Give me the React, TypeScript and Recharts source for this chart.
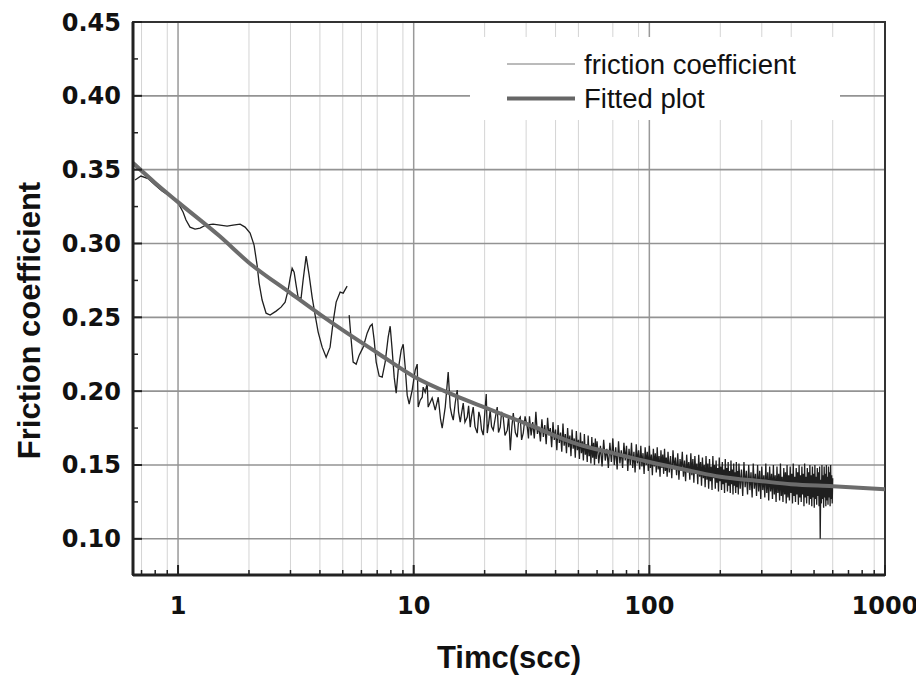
import React from 'react';
import { LineChart, Line, XAxis, YAxis, CartesianGrid, ReferenceArea, Legend } from 'recharts';

// axis ranges (time axis is logarithmic)
const timeRange: [number, number] = [0.644, 1000];
const frictionRange: [number, number] = [0.0755, 0.45];

const timeMajorTicks = [1, 10, 100, 1000];
const timeMinorTicks = [0.7, 0.8, 0.9, 2, 3, 4, 5, 6, 7, 8, 9, 20, 30, 40, 50, 60, 70, 80, 90, 200, 300, 400, 500, 600, 700, 800, 900];
const timeGridMajor = [1, 10, 100];
const frictionMajorTicks = [0.1, 0.15, 0.2, 0.25, 0.3, 0.35, 0.4, 0.45];
const frictionMinorTicks = [0.125, 0.175, 0.225, 0.275, 0.325, 0.375, 0.425];
const frictionGridTicks = [0.1, 0.15, 0.2, 0.25, 0.3, 0.35, 0.4];

// fitted curve
const fitTime = [0.644, 0.8, 1, 1.5, 2, 3, 4, 5, 7, 10, 15, 20, 30, 50, 70, 100, 150, 200, 300, 400, 600, 1000];
const fitValue = [0.3545, 0.341, 0.328, 0.305, 0.287, 0.2664, 0.252, 0.2413, 0.226, 0.21, 0.197, 0.189, 0.178, 0.164, 0.158, 0.152, 0.146, 0.142, 0.139, 0.137, 0.1356, 0.1336];

// measured trace, early part: [time (s), friction], null marks the gap in the record
const frictionEarly: [number, number | null][] = [
  [0.657, 0.343], [0.696, 0.3457], [0.746, 0.344], [0.799, 0.3396], [0.855, 0.3355], [0.925, 0.332],
  [1.0, 0.3274], [1.05, 0.3213], [1.081, 0.3159], [1.124, 0.3111], [1.181, 0.3098], [1.24, 0.3104],
  [1.315, 0.3125], [1.408, 0.3131], [1.508, 0.3125], [1.615, 0.3118], [1.712, 0.3125], [1.834, 0.3131],
  [1.925, 0.3111], [2.022, 0.307], [2.102, 0.2989], [2.165, 0.2854], [2.208, 0.2732], [2.274, 0.2617],
  [2.364, 0.2528], [2.459, 0.2515], [2.607, 0.2542], [2.737, 0.2569], [2.847, 0.2603], [2.932, 0.2684],
  [2.99, 0.2766], [3.049, 0.2833], [3.109, 0.2806], [3.17, 0.2718], [3.232, 0.2637], [3.328, 0.263],
  [3.394, 0.2752], [3.496, 0.2915], [3.6, 0.2786], [3.707, 0.2637], [3.817, 0.2515], [3.932, 0.24],
  [4.089, 0.2298], [4.252, 0.223], [4.418, 0.2298], [4.55, 0.2468], [4.688, 0.2603], [4.875, 0.2671],
  [5.02, 0.2664], [5.22, 0.2711], [5.27, null],
  [5.323, 0.2515], [5.429, 0.2346], [5.534, 0.2197], [5.7, 0.2183], [5.871, 0.2244], [6.105, 0.2298],
  [6.346, 0.2393], [6.536, 0.244], [6.666, 0.2454], [6.797, 0.2346], [6.931, 0.2197], [7.138, 0.2102],
  [7.349, 0.2095], [7.568, 0.2197], [7.794, 0.2366], [7.948, 0.244], [8.104, 0.2278], [8.265, 0.2095],
  [8.428, 0.1986], [8.594, 0.2142], [8.85, 0.2278], [9.025, 0.2318], [9.203, 0.2163], [9.385, 0.1973],
  [9.57, 0.1912], [9.854, 0.2007], [10.15, 0.2142], [10.35, 0.2183], [10.45, 0.1892], [10.66, 0.1939],
  [10.87, 0.1959], [10.97, 0.2027], [11.19, 0.1993], [11.41, 0.2054], [11.52, 0.1892], [11.98, 0.1953],
  [12.34, 0.1871], [12.71, 0.1959], [13.0, 0.181], [13.21, 0.1749], [13.61, 0.1892], [14.01, 0.2129],
  [14.29, 0.1892], [14.5, 0.184], [14.72, 0.1804], [15.0, 0.192], [15.3, 0.2007], [15.5, 0.186],
  [15.76, 0.179], [16.0, 0.186], [16.23, 0.1919], [16.5, 0.179], [16.88, 0.1824], [17.1, 0.19],
  [17.38, 0.1756], [17.6, 0.183], [17.89, 0.1892], [18.2, 0.176], [18.61, 0.1716], [18.9, 0.186],
  [19.16, 0.1824], [19.4, 0.174], [19.73, 0.1702], [20.0, 0.184], [20.32, 0.198], [20.52, 0.1716],
  [20.8, 0.178], [21.12, 0.1871], [21.4, 0.176], [21.76, 0.1736], [22.2, 0.182], [22.62, 0.1892],
  [22.9, 0.172], [23.3, 0.1756], [23.6, 0.186], [23.99, 0.1824], [24.4, 0.17], [24.95, 0.1736],
  [25.3, 0.183], [25.7, 0.16], [26.1, 0.176], [26.46, 0.1851], [27.0, 0.172], [27.51, 0.1688],
  [27.9, 0.181], [28.33, 0.1824], [28.7, 0.167], [29.17, 0.1716], [29.7, 0.183], [30.34, 0.1756],
  [30.7, 0.168],
];

// measured trace, dense part from 31 s to the end of the test
const frictionDense: [number, number][] = [
  [31, 0.183], [31.5, 0.17], [32, 0.179], [32.5, 0.168], [33, 0.186], [33.5, 0.171], [34, 0.176], [34.5, 0.166],
  [35, 0.181], [35.5, 0.169], [36, 0.177], [36.5, 0.164], [37, 0.182], [37.5, 0.17], [38, 0.175], [38.5, 0.162],
  [39, 0.179], [39.5, 0.167], [40, 0.174], [40.5, 0.16], [41, 0.177], [41.5, 0.165], [42, 0.172], [42.5, 0.159],
  [43, 0.178], [43.5, 0.163], [44, 0.171], [44.5, 0.158], [45, 0.175], [45.5, 0.162], [46, 0.17], [46.5, 0.156],
  [47, 0.174], [47.5, 0.161], [48, 0.168], [48.5, 0.155], [49, 0.173], [49.5, 0.16], [50, 0.167], [50.5, 0.154],
  [51, 0.172], [51.5, 0.158], [52, 0.166], [52.5, 0.153], [53, 0.171], [53.5, 0.157], [54, 0.164], [54.5, 0.152],
  [55, 0.17], [55.5, 0.156], [56, 0.163], [56.5, 0.151], [57, 0.169], [57.5, 0.155], [58, 0.165], [58.5, 0.15],
  [59, 0.168], [59.5, 0.154], [60, 0.166], [61, 0.151], [62, 0.163], [63, 0.149], [64, 0.167], [65, 0.153],
  [66, 0.161], [67, 0.148], [68, 0.165], [69, 0.152], [70, 0.168], [71, 0.15], [72, 0.162], [73, 0.147],
  [74, 0.166], [75, 0.151], [76, 0.16], [77, 0.148], [78, 0.165], [79, 0.153], [80, 0.163], [81, 0.146],
  [82, 0.161], [83, 0.15], [84, 0.165], [85, 0.148], [86, 0.159], [87, 0.145], [88, 0.164], [89, 0.151],
  [90, 0.16], [91, 0.147], [92, 0.163], [93, 0.149], [94, 0.158], [95, 0.144], [96, 0.162], [97, 0.15],
  [98, 0.159], [99, 0.146], [100, 0.163], [101, 0.148], [102, 0.157], [103, 0.143], [104, 0.161], [105, 0.149],
  [106, 0.158], [107, 0.145], [108, 0.162], [109, 0.147], [110, 0.156], [111, 0.142], [112, 0.16], [113, 0.148],
  [114, 0.157], [115, 0.144], [116, 0.161], [117, 0.146], [118, 0.155], [119, 0.142], [120, 0.159], [121.5, 0.145],
  [123, 0.156], [124.5, 0.141], [126, 0.16], [127.5, 0.147], [129, 0.155], [130.5, 0.143], [132, 0.158], [133.5, 0.14],
  [135, 0.154], [136.5, 0.146], [138, 0.159], [139.5, 0.142], [141, 0.153], [142.5, 0.139], [144, 0.157], [145.5, 0.145],
  [147, 0.152], [148.5, 0.14], [150, 0.158], [151.5, 0.143], [153, 0.154], [154.5, 0.138], [156, 0.156], [157.5, 0.144],
  [159, 0.151], [160.5, 0.137], [162, 0.157], [163.5, 0.142], [165, 0.152], [166.5, 0.136], [168, 0.155], [169.5, 0.141],
  [171, 0.15], [172.5, 0.135], [174, 0.156], [175.5, 0.14], [177, 0.151], [178.5, 0.134], [180, 0.154], [181.5, 0.139],
  [183, 0.149], [184.5, 0.133], [186, 0.156], [187.5, 0.141], [189, 0.15], [190.5, 0.134], [192, 0.153], [193.5, 0.138],
  [195, 0.148], [196.5, 0.132], [198, 0.155], [199.5, 0.139], [201, 0.149], [202.5, 0.133], [204, 0.152], [205.5, 0.137],
  [207, 0.147], [208.5, 0.131], [210, 0.154], [211.5, 0.138], [213, 0.148], [214.5, 0.132], [216, 0.152], [217.5, 0.136],
  [219, 0.146], [220.5, 0.131], [222, 0.153], [223.5, 0.137], [225, 0.147], [226.5, 0.13], [228, 0.151], [229.5, 0.136],
  [231, 0.145], [232.5, 0.131], [234, 0.152], [235.5, 0.135], [237, 0.146], [238.5, 0.13], [240, 0.151], [243, 0.134],
  [246, 0.147], [249, 0.129], [252, 0.152], [255, 0.135], [258, 0.146], [261, 0.13], [264, 0.15], [267, 0.133],
  [270, 0.145], [273, 0.128], [276, 0.151], [279, 0.134], [282, 0.144], [285, 0.129], [288, 0.15], [291, 0.132],
  [294, 0.146], [297, 0.127], [300, 0.149], [303, 0.133], [306, 0.143], [309, 0.128], [312, 0.151], [315, 0.131],
  [318, 0.145], [321, 0.126], [324, 0.149], [327, 0.132], [330, 0.144], [333, 0.127], [336, 0.15], [339, 0.13],
  [342, 0.143], [345, 0.125], [348, 0.149], [351, 0.131], [354, 0.144], [357, 0.126], [360, 0.151], [363, 0.129],
  [366, 0.142], [369, 0.125], [372, 0.148], [375, 0.13], [378, 0.145], [381, 0.124], [384, 0.15], [387, 0.128],
  [390, 0.143], [393, 0.126], [396, 0.149], [399, 0.131], [402, 0.144], [405, 0.124], [408, 0.151], [411, 0.129],
  [414, 0.142], [417, 0.125], [420, 0.148], [423, 0.13], [426, 0.145], [429, 0.123], [432, 0.15], [435, 0.128],
  [438, 0.143], [441, 0.125], [444, 0.149], [447, 0.13], [450, 0.144], [453, 0.122], [456, 0.151], [459, 0.128],
  [462, 0.142], [465, 0.124], [468, 0.148], [471, 0.129], [474, 0.145], [477, 0.123], [480, 0.15], [483, 0.127],
  [486, 0.143], [489, 0.122], [492, 0.149], [495, 0.128], [498, 0.144], [501, 0.121], [504, 0.15], [507, 0.127],
  [510, 0.142], [513, 0.123], [516, 0.148], [519, 0.129], [522, 0.145], [525, 0.122], [528, 0.149], [531, 0.1],
  [534, 0.14], [537, 0.124], [540, 0.15], [543, 0.127], [546, 0.143], [549, 0.121], [552, 0.149], [555, 0.128],
  [558, 0.144], [561, 0.122], [564, 0.15], [567, 0.126], [570, 0.142], [573, 0.123], [576, 0.149], [579, 0.128],
  [582, 0.145], [585, 0.122], [588, 0.15], [591, 0.127], [594, 0.143], [597, 0.124], [600, 0.141],
];

const series = [
  { name: 'friction coefficient', color: '#1f1f1f', width: 1.3, keyColor: '#777', keyWidth: 1 },
  { name: 'Fitted plot', color: '#6c6c6c', width: 4, keyColor: '#666', keyWidth: 4 },
];

const traceData = [...frictionEarly, ...frictionDense].map(([t, v]) => ({ t, v }));
const fitData = fitTime.map((t, i) => ({ t, v: fitValue[i] }));

const tickFont = { fontFamily: 'DejaVu Sans', fontWeight: 'bold' as const, fontSize: 24, fill: '#111' };
const titleFont = { fontFamily: 'Liberation Sans, Arial', fontWeight: 'bold' as const, fontSize: 31, fill: '#111' };

const TimeTick = (props: any) => {
  const { x, y, payload } = props;
  const major = timeMajorTicks.includes(payload.value);
  return (
    <g>
      <line x1={x} x2={x} y1={y} y2={y - (major ? 10 : 5)} stroke="#222" strokeWidth={major ? 2 : 1.5} />
      {major && (
        <text x={x} y={y + 39} textAnchor="middle" {...tickFont}>
          {payload.value}
        </text>
      )}
    </g>
  );
};

const FrictionTick = (props: any) => {
  const { x, y, payload } = props;
  const major = frictionMajorTicks.includes(payload.value);
  return (
    <g>
      <line x1={x} x2={x + (major ? 9 : 5)} y1={y} y2={y} stroke="#222" strokeWidth={major ? 2 : 1.5} />
      {major && (
        <text x={x - 12} y={y + 8.5} textAnchor="end" {...tickFont}>
          {payload.value.toFixed(2)}
        </text>
      )}
    </g>
  );
};

const TimeTitle = (props: any) => {
  const vb = props.viewBox;
  return (
    <text x={vb.x + vb.width / 2} y={vb.y + 93} textAnchor="middle" {...titleFont}>
      Timc(scc)
    </text>
  );
};

const FrictionTitle = (props: any) => {
  const vb = props.viewBox;
  const cx = vb.x + 32;
  const cy = vb.y + vb.height / 2 + 22;
  return (
    <text x={cx} y={cy} textAnchor="middle" transform={`rotate(-90, ${cx}, ${cy})`} {...titleFont}>
      Friction coefficient
    </text>
  );
};

const LegendBox = () => (
  <svg width={370} height={83} style={{ display: 'block', background: '#fff' }}>
    {series.map((s, i) => (
      <g key={s.name}>
        <line x1={37} x2={105} y1={27 + i * 34.5} y2={27 + i * 34.5} stroke={s.keyColor} strokeWidth={s.keyWidth} />
        <text x={114} y={36.5 + i * 34.5} fontFamily="Liberation Sans, Arial" fontSize={27.5} fill="#111">
          {s.name}
        </text>
      </g>
    ))}
  </svg>
);

export default function App() {
  return (
    <LineChart width={916} height={668} margin={{ top: 14, right: 39, bottom: 0, left: 0 }}>
      <XAxis xAxisId="minorGrid" dataKey="t" type="number" scale="log" domain={timeRange} allowDataOverflow ticks={timeMinorTicks} hide />
      <XAxis xAxisId="majorGrid" dataKey="t" type="number" scale="log" domain={timeRange} allowDataOverflow ticks={timeGridMajor} hide />
      <YAxis yAxisId="rowGrid" type="number" domain={frictionRange} allowDataOverflow ticks={frictionGridTicks} hide />
      <CartesianGrid xAxisId="minorGrid" horizontal={false} stroke="#d4d4d4" strokeWidth={1} />
      <CartesianGrid xAxisId="majorGrid" horizontal={false} stroke="#999" strokeWidth={1.5} />
      <CartesianGrid yAxisId="rowGrid" vertical={false} stroke="#939393" strokeWidth={1.6} />
      <XAxis
        dataKey="t"
        type="number"
        scale="log"
        domain={timeRange}
        allowDataOverflow
        ticks={[...timeMinorTicks, ...timeMajorTicks].sort((a, b) => a - b)}
        interval={0}
        tickSize={0}
        tickMargin={0}
        tickLine={false}
        tick={<TimeTick />}
        axisLine={{ stroke: '#222', strokeWidth: 3 }}
        height={101}
        label={<TimeTitle />}
      />
      <YAxis
        type="number"
        domain={frictionRange}
        allowDataOverflow
        ticks={[...frictionMinorTicks, ...frictionMajorTicks].sort((a, b) => a - b)}
        interval={0}
        tickSize={0}
        tickMargin={0}
        tickLine={false}
        tick={<FrictionTick />}
        axisLine={{ stroke: '#222', strokeWidth: 3 }}
        width={125}
        label={<FrictionTitle />}
      />
      <Line
        data={traceData}
        dataKey="v"
        name={series[0].name}
        stroke={series[0].color}
        strokeWidth={series[0].width}
        type="linear"
        dot={false}
        activeDot={false}
        isAnimationActive={false}
      />
      <Line
        data={fitData}
        dataKey="v"
        name={series[1].name}
        stroke={series[1].color}
        strokeWidth={series[1].width}
        type="monotone"
        dot={false}
        activeDot={false}
        isAnimationActive={false}
      />
      <ReferenceArea
        x1={timeRange[0]}
        x2={timeRange[1]}
        y1={frictionRange[0]}
        y2={frictionRange[1]}
        fill="none"
        stroke="#333"
        strokeWidth={2}
        ifOverflow="visible"
      />
      <Legend
        layout="horizontal"
        verticalAlign="middle"
        align="center"
        wrapperStyle={{ left: 462, top: 29, width: 370, height: 83 }}
        content={() => <LegendBox />}
      />
    </LineChart>
  );
}
